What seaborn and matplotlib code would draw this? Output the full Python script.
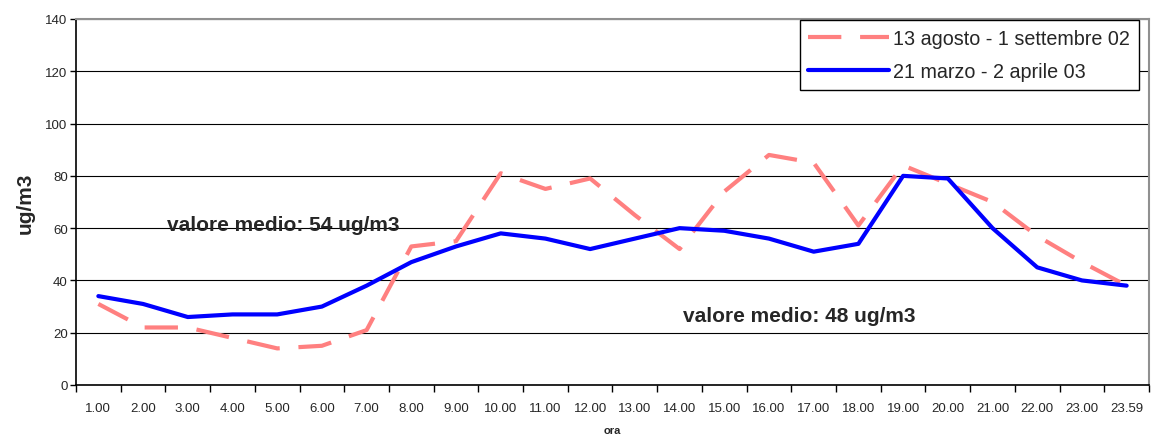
import numpy as np
import pandas as pd
import matplotlib
matplotlib.use("Agg")
import matplotlib.pyplot as plt
import seaborn as sns

hours = ["1.00", "2.00", "3.00", "4.00", "5.00", "6.00", "7.00", "8.00", "9.00", "10.00",
         "11.00", "12.00", "13.00", "14.00", "15.00", "16.00", "17.00", "18.00", "19.00",
         "20.00", "21.00", "22.00", "23.00", "23.59"]
summer_label = "13 agosto - 1 settembre 02"
spring_label = "21 marzo - 2 aprile 03"
summer = [31, 22, 22, 18, 14, 15, 21, 53, 55, 81, 75, 79, 65, 52, 74, 88, 85, 61, 84, 77, 70, 57, 47, 38]
spring = [34, 31, 26, 27, 27, 30, 38, 47, 53, 58, 56, 52, 56, 60, 59, 56, 51, 54, 80, 79, 60, 45, 40, 38]
yticks = [0, 20, 40, 60, 80, 100, 120, 140]
note_summer = "valore medio: 54 ug/m3"
note_spring = "valore medio: 48 ug/m3"

sns.set_style("white")
plt.rcParams["font.family"] = ["Liberation Sans", "DejaVu Sans"]

fig = plt.figure(figsize=(11.52, 4.39), dpi=100)
ax = fig.add_axes([76 / 1152, 1 - 386 / 439, (1149 - 76) / 1152, (386 - 20) / 439])

x = np.arange(len(hours))
sns.lineplot(x=x, y=summer, ax=ax, color="#FF8080", linewidth=3.0,
             linestyle=(0, (8, 4.5)), label=summer_label, solid_capstyle="butt")
sns.lineplot(x=x, y=spring, ax=ax, color="#0000FF", linewidth=3.0,
             label=spring_label)

ax.set_xlim(-0.5, len(hours) - 0.5)
ax.set_ylim(0, 140)
ax.set_yticks(yticks)
ax.set_yticklabels([str(v) for v in yticks], fontsize=9.5)
ax.yaxis.grid(True, color="black", linewidth=0.8)
ax.set_axisbelow(True)

ax.set_xticks(np.arange(-0.5, len(hours), 1.0))
ax.set_xticklabels([])
ax.set_xticks(x, minor=True)
ax.set_xticklabels(hours, minor=True, fontsize=9.5)
ax.tick_params(axis="x", which="major", direction="out", length=5, width=1, color="black", bottom=True)
ax.tick_params(axis="x", which="minor", length=0, pad=12)
ax.tick_params(axis="y", direction="out", length=4, width=1, color="black", left=True, pad=2)

for s in ["left", "bottom"]:
    ax.spines[s].set_color("black")
    ax.spines[s].set_linewidth(1.2)
for s in ["top", "right"]:
    ax.spines[s].set_color("#909090")
    ax.spines[s].set_linewidth(1.5)

ax.set_ylabel("ug/m3", fontsize=15, fontweight="bold", labelpad=8)
ax.set_xlabel("ora", fontsize=8, fontweight="bold", labelpad=8)

ax.text(1.54, 61.5, note_summer, fontsize=15, fontweight="bold", ha="left", va="center")
ax.text(13.07, 26.5, note_spring, fontsize=15, fontweight="bold", ha="left", va="center")

leg = ax.legend(loc="upper right", bbox_to_anchor=(1139 / 1152, 1 - 21 / 439),
                bbox_transform=fig.transFigure, fontsize=14.2, frameon=True,
                fancybox=False, framealpha=1, edgecolor="black", handlelength=4.1,
                handletextpad=0.2, labelspacing=0.7, borderpad=0.45, borderaxespad=0)
leg.get_frame().set_linewidth(1.0)

fig.savefig("out.png", dpi=100)
